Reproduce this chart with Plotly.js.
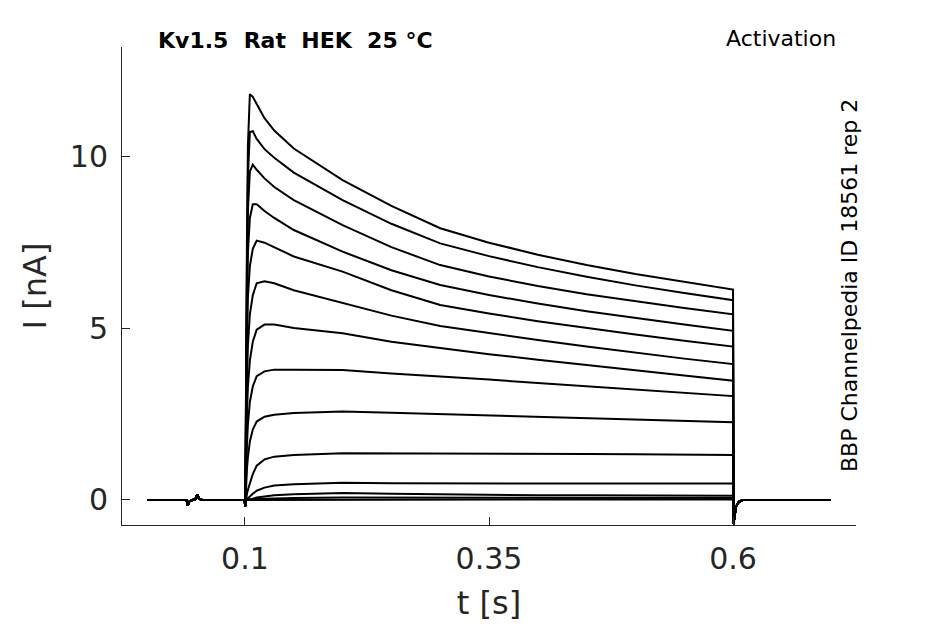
<!DOCTYPE html>
<html>
<head>
<meta charset="utf-8">
<script src="https://cdn.plot.ly/plotly-3.0.1.min.js"></script>
<style>html,body{margin:0;padding:0;background:#fff;}#chart{width:945px;height:624px;}</style>
</head>
<body>
<div id="chart"></div>
<script>
// time before the step (s) and holding current (nA)
const preT = [0, 0.04, 0.0415, 0.043, 0.046, 0.049, 0.051, 0.053, 0.056, 0.0995, 0.1003];
const preI = [0, 0, -0.16, -0.04, 0, 0.02, 0.15, 0.04, 0, 0, -0.18];
// times during the voltage step (s)
const stepT = [0.101, 0.102, 0.103, 0.105, 0.108, 0.112, 0.12, 0.13, 0.15, 0.2, 0.25, 0.3, 0.35, 0.4, 0.45, 0.5, 0.55, 0.6];
// currents during the step (nA), one array per sweep
const sweep1  = [3.8, 7.5, 10.3, 11.8, 11.72, 11.5, 11.1, 10.74, 10.22, 9.30, 8.55, 7.90, 7.48, 7.13, 6.83, 6.57, 6.34, 6.12];
const sweep2  = [3.4, 6.8, 9.4, 10.7, 10.72, 10.5, 10.2, 9.95, 9.52, 8.72, 8.03, 7.46, 7.09, 6.77, 6.49, 6.24, 6.02, 5.81];
const sweep3  = [3.0, 6.1, 8.4, 9.55, 9.75, 9.6, 9.35, 9.1, 8.72, 7.99, 7.35, 6.83, 6.50, 6.22, 5.98, 5.77, 5.58, 5.40];
const sweep4  = [2.6, 5.3, 7.2, 8.2, 8.6, 8.6, 8.4, 8.2, 7.85, 7.22, 6.68, 6.25, 5.96, 5.71, 5.49, 5.29, 5.10, 4.92];
const sweep5  = [2.1, 4.4, 5.9, 6.8, 7.3, 7.54, 7.48, 7.35, 7.08, 6.64, 6.10, 5.67, 5.42, 5.20, 5.00, 4.81, 4.63, 4.46];
const sweep6  = [1.6, 3.4, 4.5, 5.4, 5.95, 6.3, 6.36, 6.3, 6.1, 5.72, 5.36, 5.06, 4.85, 4.65, 4.46, 4.28, 4.11, 3.95];
const sweep7  = [1.2, 2.5, 3.3, 4.05, 4.6, 4.95, 5.1, 5.1, 5.0, 4.85, 4.60, 4.41, 4.24, 4.08, 3.92, 3.77, 3.62, 3.47];
const sweep8  = [0.8, 1.6, 2.2, 2.85, 3.3, 3.6, 3.74, 3.79, 3.79, 3.78, 3.68, 3.60, 3.50, 3.40, 3.30, 3.21, 3.11, 3.02];
const sweep9  = [0.4, 0.9, 1.25, 1.7, 2.05, 2.28, 2.42, 2.48, 2.53, 2.57, 2.54, 2.50, 2.46, 2.42, 2.38, 2.34, 2.30, 2.26];
const sweep10 = [0.06, 0.18, 0.3, 0.5, 0.75, 1.0, 1.18, 1.26, 1.31, 1.36, 1.36, 1.36, 1.36, 1.35, 1.34, 1.33, 1.32, 1.31];
const sweep11 = [0.0, 0.03, 0.05, 0.1, 0.18, 0.27, 0.36, 0.42, 0.46, 0.50, 0.49, 0.48, 0.48, 0.48, 0.48, 0.48, 0.48, 0.48];
const sweep12 = [0.0, 0.0, 0.01, 0.02, 0.04, 0.07, 0.11, 0.14, 0.17, 0.2, 0.18, 0.16, 0.15, 0.14, 0.14, 0.13, 0.13, 0.12];
const sweep13 = [0, 0, 0, 0.01, 0.02, 0.03, 0.04, 0.05, 0.06, 0.07, 0.07, 0.06, 0.06, 0.06, 0.06, 0.06, 0.06, 0.06];
const sweep14 = [0, 0, 0, 0, 0, 0.01, 0.01, 0.01, 0.02, 0.02, 0.02, 0.02, 0.02, 0.02, 0.02, 0.02, 0.02, 0.02];
// after the step
const postT = [0.6005, 0.6015, 0.603, 0.606, 0.61, 0.7];
const postI = [-0.7, -0.5, -0.2, -0.05, 0, 0];
// tick labels
const xTicks = [0.1, 0.35, 0.6];
const xTickText = ['0.1', '0.35', '0.6'];
const yTicks = [0, 5, 10];
const yTickText = ['0', '5', '10'];

const sweeps = [sweep1, sweep2, sweep3, sweep4, sweep5, sweep6, sweep7, sweep8, sweep9, sweep10, sweep11, sweep12, sweep13, sweep14];
const tAll = preT.concat(stepT, postT);
const traces = sweeps.map(s => ({
  x: tAll,
  y: preI.concat(s, postI),
  type: 'scatter',
  mode: 'lines',
  line: {color: '#000000', width: 2},
  hoverinfo: 'skip',
  showlegend: false
}));

const axColor = '#262626';
const font = 'DejaVu Sans, Liberation Sans, sans-serif';
const layout = {
  width: 945, height: 624,
  margin: {l: 122, r: 89, t: 47, b: 99},
  paper_bgcolor: '#ffffff', plot_bgcolor: '#ffffff',
  showlegend: false,
  xaxis: {
    range: [-0.026, 0.726],
    tickvals: xTicks, ticktext: xTickText,
    ticks: 'inside', ticklen: 8, tickwidth: 1, tickcolor: axColor,
    showline: true, linecolor: axColor, linewidth: 1,
    showgrid: false, zeroline: false,
    tickfont: {family: font, size: 30, color: axColor},
    ticklabelstandoff: 7,
    title: {text: 't [s]', font: {family: font, size: 32, color: axColor}, standoff: 16}
  },
  yaxis: {
    range: [-0.727, 13.17],
    tickvals: yTicks, ticktext: yTickText,
    ticks: 'inside', ticklen: 8, tickwidth: 1, tickcolor: axColor,
    showline: true, linecolor: axColor, linewidth: 1,
    showgrid: false, zeroline: false,
    tickfont: {family: font, size: 30, color: axColor},
    ticklabelstandoff: 7,
    title: {text: 'I [nA]', font: {family: font, size: 32, color: axColor}, standoff: 13}
  },
  annotations: [
    {xref: 'paper', yref: 'paper', x: 0.047, y: 1.0146, xanchor: 'left', yanchor: 'middle',
     text: '<b>Kv1.5\u00a0\u00a0Rat\u00a0\u00a0HEK\u00a0\u00a025 °C</b>', showarrow: false,
     font: {family: font, size: 22, color: '#000000'}},
    {xref: 'paper', yref: 'paper', x: 0.9755, y: 1.0188, xanchor: 'right', yanchor: 'middle',
     text: 'Activation', showarrow: false,
     font: {family: font, size: 22, color: '#000000'}},
    {xref: 'paper', yref: 'paper', x: 0.9905, y: 0.5, xanchor: 'center', yanchor: 'middle',
     text: 'BBP Channelpedia ID 18561 rep 2', textangle: -90, showarrow: false,
     font: {family: font, size: 22, color: '#000000'}}
  ]
};

Plotly.newPlot('chart', traces, layout, {staticPlot: true, displayModeBar: false});
</script>
</body>
</html>
